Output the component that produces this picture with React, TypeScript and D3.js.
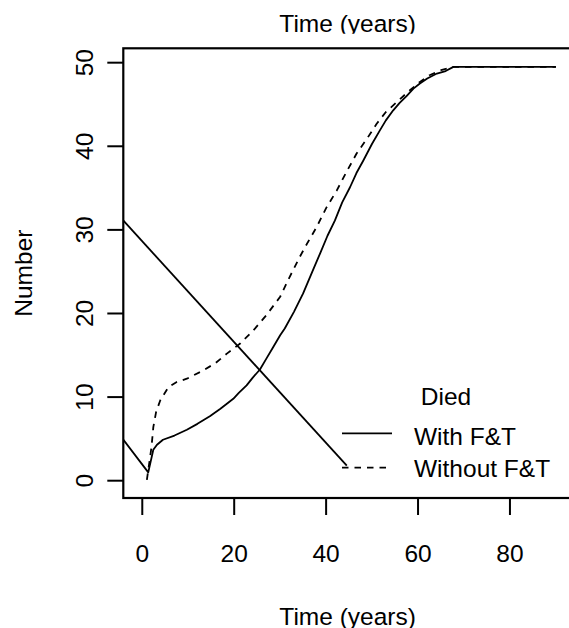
import React from "react";
import * as d3 from "d3";

const xTicks = [0, 20, 40, 60, 80];
const yTicks = [0, 10, 20, 30, 40, 50];

const withX = [-4.1, 1.3, 2.4, 3.2, 4.5, 7, 9.7, 12, 14.7, 17, 19.8, 21, 22.7, 24, 25.6, 27, 28.5, 30, 31, 33, 35, 37, 38.7, 40.3, 41.9, 43.5, 45.2, 46.6, 48.1, 50, 51.7, 53, 54.6, 56, 57.5, 59, 60.4, 62, 64.1, 66, 67.7, 90];
const withY = [4.9, 1.0, 3.7, 4.3, 4.9, 5.4, 6.1, 6.8, 7.7, 8.6, 9.8, 10.5, 11.4, 12.3, 13.3, 14.6, 16.0, 17.4, 18.2, 20.2, 22.4, 25.0, 27.2, 29.3, 31.1, 33.3, 35.1, 36.8, 38.3, 40.3, 41.9, 43.1, 44.3, 45.2, 46.0, 46.9, 47.5, 48.1, 48.7, 49.0, 49.5, 49.5];

const withoutX = [1.0, 2.0, 2.4, 3.0, 3.9, 5.7, 7.5, 9.7, 11.5, 13.3, 16, 18.4, 21.3, 24.2, 27, 30, 32, 34.3, 36, 37.9, 40, 42.3, 44.5, 46.6, 49, 51, 53, 55.4, 58, 60.4, 62.5, 65, 67.7, 90];
const withoutY = [0.1, 4.0, 6.4, 8.2, 9.6, 11.2, 11.8, 12.2, 12.7, 13.2, 14.1, 15.2, 16.4, 18.0, 19.8, 22.0, 24.3, 26.8, 28.5, 30.3, 32.6, 34.7, 37.0, 39.1, 41.0, 42.7, 44.1, 45.3, 46.6, 47.7, 48.5, 49.1, 49.5, 49.5];

const diagX = [-4.1, 44.5];
const diagY = [31.1, 1.8];

const legendTitle = "Died";
const legendLabels = ["With F&T", "Without F&T"];

const W = 569;
const H = 628;
const FONT = "'Liberation Sans', Arial, Helvetica, sans-serif";
const FS = 24.5;

export default function App() {
  const left = 123.3, right = 572, top = 48.3, bottom = 498;
  const x = d3.scaleLinear().domain([-4.13, 93.5]).range([left, right]);
  const y = d3.scaleLinear().domain([-2.07, 51.72]).range([bottom, top]);
  const line = d3.line<[number, number]>().x((d) => x(d[0])).y((d) => y(d[1]));
  const zip = (a: number[], b: number[]) => a.map((v, i) => [v, b[i]] as [number, number]);

  return (
    <svg width={W} height={H} style={{ position: "absolute", left: 0, top: 0, background: "#fff" }} fontFamily={FONT}>
      <defs>
        <clipPath id="plotclip">
          <rect x={left} y={top} width={right - left} height={bottom - top} />
        </clipPath>
        <clipPath id="titleclip">
          <rect x={0} y={0} width={W} height={33.8} />
        </clipPath>
      </defs>
      <rect x={0} y={0} width={W} height={H} fill="#fff" />
      <text x={(left + right) / 2} y={32.3} fontSize={FS} textAnchor="middle" clipPath="url(#titleclip)">Time (years)</text>

      <g clipPath="url(#plotclip)" fill="none" stroke="#000" strokeWidth={1.8} strokeLinejoin="round">
        <path d={line(zip(withX, withY)) || ""} />
        <path d={line(zip(withoutX, withoutY)) || ""} strokeDasharray="6.5,6" />
        <path d={line(zip(diagX, diagY)) || ""} />
      </g>

      <rect x={left} y={top} width={right - left} height={bottom - top} fill="none" stroke="#000" strokeWidth={2.2} />

      {yTicks.map((t) => (
        <g key={"y" + t}>
          <line x1={left - 16} x2={left} y1={y(t)} y2={y(t)} stroke="#000" strokeWidth={2} />
          <text transform={`translate(93,${y(t)}) rotate(-90)`} fontSize={FS} textAnchor="middle">{t}</text>
        </g>
      ))}
      {xTicks.map((t) => (
        <g key={"x" + t}>
          <line x1={x(t)} x2={x(t)} y1={bottom} y2={bottom + 17} stroke="#000" strokeWidth={2} />
          <text x={x(t)} y={562} fontSize={FS} textAnchor="middle">{t}</text>
        </g>
      ))}
      <text transform={`translate(32,${(top + bottom) / 2}) rotate(-90)`} fontSize={FS} textAnchor="middle">Number</text>
      <text x={(left + right) / 2} y={624.5} fontSize={FS} textAnchor="middle">Time (years)</text>

      <text x={446} y={405} fontSize={FS} textAnchor="middle">{legendTitle}</text>
      <line x1={342} x2={392} y1={433.3} y2={433.3} stroke="#000" strokeWidth={1.8} />
      <line x1={342} x2={392} y1={467.7} y2={467.7} stroke="#000" strokeWidth={1.8} strokeDasharray="6.5,6" />
      <text x={414} y={445} fontSize={FS}>{legendLabels[0]}</text>
      <text x={414} y={476.7} fontSize={FS}>{legendLabels[1]}</text>
    </svg>
  );
}
